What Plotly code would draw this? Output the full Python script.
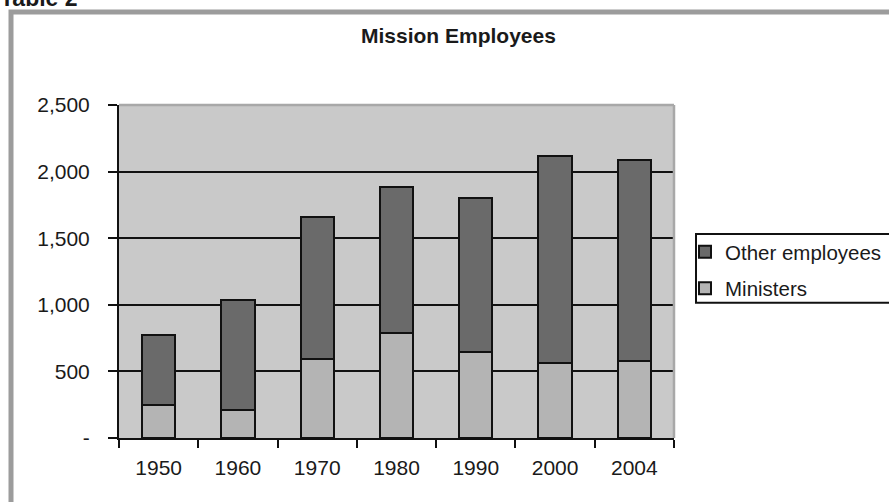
import plotly.graph_objects as go

years = ["1950", "1960", "1970", "1980", "1990", "2000", "2004"]
ministers = [250, 210, 590, 790, 645, 560, 575]
other_employees = [525, 825, 1070, 1095, 1160, 1560, 1510]
y_tickvals = [0, 500, 1000, 1500, 2000, 2500]
y_ticktext = ["-", "500", "1,000", "1,500", "2,000", "2,500"]

FONT = "Liberation Sans, Arial, sans-serif"
TXT = "#1a1a1a"
W, H = 889, 502
L, R, T, B = 119, 674, 105, 438.3


def px(x):
    return (x - L) / (R - L)


def py(y):
    return (B - y) / (B - T)


fig = go.Figure()
fig.add_trace(go.Bar(
    x=years, y=ministers, name="Ministers", legendgroup="m", legendrank=2,
    marker=dict(color="#b4b4b4", line=dict(color="#111111", width=2)),
))
fig.add_trace(go.Bar(
    x=years, y=other_employees, name="Other employees", legendgroup="o",
    legendrank=1,
    marker=dict(color="#6a6a6a", line=dict(color="#111111", width=2)),
))

fig.update_layout(
    width=W, height=H, autosize=False,
    margin=dict(l=L, r=W - R, t=T, b=H - B, pad=0, autoexpand=False),
    barmode="stack", bargap=0.58,
    paper_bgcolor="white", plot_bgcolor="#c9c9c9",
    font=dict(family=FONT, size=21, color=TXT),
    showlegend=True,
    legend=dict(
        x=px(685), y=py(232), xanchor="left", yanchor="top",
        traceorder="grouped", tracegroupgap=7,
        bgcolor="rgba(0,0,0,0)", borderwidth=0,
        font=dict(family=FONT, size=20.5, color=TXT),
    ),
    xaxis=dict(
        type="category", tickson="boundaries", ticks="outside", ticklen=8,
        tickwidth=2, tickcolor="#111111", showline=True, linecolor="#111111",
        linewidth=2, showgrid=False, automargin=False,
        tickfont=dict(size=21), ticklabelstandoff=10,
    ),
    yaxis=dict(
        range=[0, 2500], tickvals=y_tickvals, ticktext=y_ticktext,
        ticks="outside", ticklen=9, tickwidth=2, tickcolor="#111111",
        showline=True, linecolor="#111111", linewidth=2,
        showgrid=True, gridcolor="#111111", gridwidth=2, zeroline=False,
        automargin=False, tickfont=dict(size=21), ticklabelstandoff=14,
    ),
)

shapes = [
    # plot area top and right border (light gray)
    dict(type="line", xref="paper", yref="paper", x0=0, x1=1, y0=1, y1=1,
         line=dict(color="#a8a8a8", width=2.5), layer="above"),
    dict(type="line", xref="paper", yref="paper", x0=1, x1=1, y0=0, y1=1,
         line=dict(color="#a8a8a8", width=2.5), layer="above"),
    # outer frame
    dict(type="rect", xref="paper", yref="paper",
         x0=px(11), x1=px(905), y0=py(520), y1=py(12),
         line=dict(color="#9c9c9c", width=5), layer="below"),
    # legend box
    dict(type="rect", xref="paper", yref="paper",
         x0=px(696), x1=px(905), y0=py(303), y1=py(234),
         line=dict(color="#111111", width=2), layer="above"),
]
fig.update_layout(shapes=shapes)

fig.add_annotation(
    text="<b>Mission Employees</b>", xref="paper", yref="paper",
    x=px(458), y=py(35), xanchor="center", yanchor="middle",
    showarrow=False, font=dict(family=FONT, size=21, color=TXT),
)
fig.add_annotation(
    text="<b>Table 2</b>", xref="paper", yref="paper",
    x=px(-2), y=py(-2), xanchor="left", yanchor="middle",
    showarrow=False, font=dict(family=FONT, size=23, color=TXT),
)

fig.write_html("out.html")
